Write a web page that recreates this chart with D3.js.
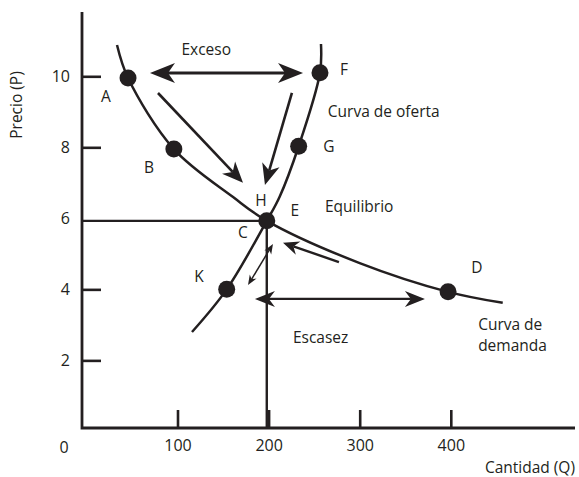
<!DOCTYPE html>
<html>
<head>
<meta charset="utf-8">
<script src="https://cdn.jsdelivr.net/npm/d3@7"></script>
<style>
  body { margin: 0; background: #fff; }
  svg text { font-family: "Open Sans", sans-serif; font-size: 15.5px; fill: #231f20; }
</style>
</head>
<body>
<svg id="chart" width="579" height="477"></svg>
<script>
// values (Q = cantidad, P = precio)
var xTicks = [100, 200, 300, 400];
var yTicks = [2, 4, 6, 8, 10];

var demand = [[33.6, 10.88], [45.7, 9.95], [96, 7.95], [161, 6.6], [198, 5.93], [300, 4.74], [397, 3.93], [457, 3.62]];
var supply = [[115.9, 2.8], [154, 4.0], [198, 5.93], [212, 6.6], [233, 8.03], [256.4, 10.1], [257.5, 10.91]];

var equilibrium = [198, 5.93];

// dots on the curves
var points = [[45.7, 9.95], [96, 7.95], [198, 5.93], [397, 3.93], [256.4, 10.1], [233, 8.03], [154, 4.0]];

// arrows: from, to, head style, double-headed?
var arrows = [
  { from: [69.8, 10.09], to: [237.8, 10.09], head: "big", both: true },
  { from: [78.6, 9.53], to: [171.9, 7.0], head: "mid", both: false },
  { from: [225.6, 9.53], to: [196, 6.94], head: "mid", both: false },
  { from: [277.2, 4.77], to: [215.8, 5.31], head: "small", both: false },
  { from: [177.4, 4.12], to: [204.8, 5.28], head: "thin", both: true },
  { from: [185, 3.73], to: [371.6, 3.73], head: "esc", both: true }
];

var labels = [
  { text: "Exceso", q: 131.5, p: 10.74, anchor: "middle" },
  { text: "A", q: 21.5, p: 9.42, anchor: "middle" },
  { text: "B", q: 68.7, p: 7.44, anchor: "middle" },
  { text: "H", q: 191.7, p: 6.49, anchor: "middle" },
  { text: "E", q: 228.9, p: 6.23, anchor: "middle" },
  { text: "C", q: 171.9, p: 5.59, anchor: "middle" },
  { text: "K", q: 123.6, p: 4.35, anchor: "middle" },
  { text: "F", q: 282.7, p: 10.2, anchor: "middle" },
  { text: "G", q: 266.2, p: 8.01, anchor: "middle" },
  { text: "D", q: 428.7, p: 4.6, anchor: "middle" },
  { text: "Curva de oferta", q: 265, p: 9.0, anchor: "start" },
  { text: "Equilibrio", q: 261.9, p: 6.32, anchor: "start" },
  { text: "Curva de", q: 430, p: 3.0, anchor: "start" },
  { text: "demanda", q: 430, p: 2.41, anchor: "start" },
  { text: "Escasez", q: 226.7, p: 2.63, anchor: "start" }
];

var ink = "#231f20";
var svg = d3.select("#chart");

var x = d3.scaleLinear().domain([0, 400]).range([86.4, 450.8]);
var y = d3.scaleLinear().domain([0, 10]).range([431.4, 76.3]);

var axisX = 82, axisY = 428;

// tick marks point inward
var gy = svg.append("g").attr("transform", "translate(" + axisX + ",0)")
  .call(d3.axisLeft(y).tickValues(yTicks).tickSize(-19).tickPadding(12));
var gx = svg.append("g").attr("transform", "translate(0," + axisY + ")")
  .call(d3.axisBottom(x).tickValues(xTicks).tickSize(-18).tickPadding(12));
[gy, gx].forEach(function (g) {
  g.select(".domain").remove();
  g.selectAll(".tick line").attr("stroke", ink).attr("stroke-width", 2.6);
  g.selectAll(".tick text").attr("fill", ink).style("font-size", "16px").attr("font-family", null);
});
// the price guide line stands in for the 6 tick
gy.selectAll(".tick").filter(function (d) { return d === 6; }).select("line").remove();

svg.append("text").attr("x", 64).attr("y", 453).attr("text-anchor", "middle").style("font-size", "16px").text("0");

// axes lines
svg.append("path").attr("d", "M" + axisX + ",12V" + axisY + "H575")
  .attr("fill", "none").attr("stroke", ink).attr("stroke-width", 2.8);

// equilibrium guides
svg.append("path")
  .attr("d", "M" + axisX + "," + y(equilibrium[1]) + "H" + x(equilibrium[0]) + "V" + axisY)
  .attr("fill", "none").attr("stroke", ink).attr("stroke-width", 2.4);

var line = d3.line().x(function (d) { return x(d[0]); }).y(function (d) { return y(d[1]); })
  .curve(d3.curveCatmullRom.alpha(0.5));

svg.append("path").attr("d", line(demand)).attr("fill", "none").attr("stroke", ink).attr("stroke-width", 2.5);
svg.append("path").attr("d", line(supply)).attr("fill", "none").attr("stroke", ink).attr("stroke-width", 2.5);

// arrows
var heads = {
  big:   { len: 25, hw: 10, notch: 7, sw: 3 },
  mid:   { len: 21, hw: 9, notch: 6, sw: 2.6 },
  esc:   { len: 20, hw: 8, notch: 6, sw: 2.2 },
  small: { len: 16, hw: 7, notch: 5, sw: 2.4 },
  thin:  { len: 10, hw: 4, notch: 3, sw: 1.5 }
};

function headPath(tip, ux, uy, h) {
  var px = -uy, py = ux;
  var bx = tip[0] - ux * h.len, by = tip[1] - uy * h.len;
  var nx = tip[0] - ux * (h.len - h.notch), ny = tip[1] - uy * (h.len - h.notch);
  return "M" + tip[0] + "," + tip[1] +
    "L" + (bx + px * h.hw) + "," + (by + py * h.hw) +
    "L" + nx + "," + ny +
    "L" + (bx - px * h.hw) + "," + (by - py * h.hw) + "Z";
}

var ga = svg.append("g");
arrows.forEach(function (a) {
  var h = heads[a.head];
  var s = [x(a.from[0]), y(a.from[1])], e = [x(a.to[0]), y(a.to[1])];
  var dx = e[0] - s[0], dy = e[1] - s[1], L = Math.sqrt(dx * dx + dy * dy);
  var ux = dx / L, uy = dy / L;
  var cut = h.len - h.notch;
  var s2 = a.both ? [s[0] + ux * cut, s[1] + uy * cut] : s;
  var e2 = [e[0] - ux * cut, e[1] - uy * cut];
  ga.append("line").attr("x1", s2[0]).attr("y1", s2[1]).attr("x2", e2[0]).attr("y2", e2[1])
    .attr("stroke", ink).attr("stroke-width", h.sw);
  ga.append("path").attr("d", headPath(e, ux, uy, h)).attr("fill", ink);
  if (a.both) ga.append("path").attr("d", headPath(s, -ux, -uy, h)).attr("fill", ink);
});

svg.selectAll("circle.pt").data(points).enter().append("circle")
  .attr("class", "pt")
  .attr("cx", function (d) { return x(d[0]); })
  .attr("cy", function (d) { return y(d[1]); })
  .attr("r", 8.5).attr("fill", ink);

svg.selectAll("text.lbl").data(labels).enter().append("text")
  .attr("class", "lbl")
  .attr("x", function (d) { return x(d.q); })
  .attr("y", function (d) { return y(d.p); })
  .attr("dy", "0.35em")
  .attr("text-anchor", function (d) { return d.anchor; })
  .text(function (d) { return d.text; });

svg.append("text").attr("transform", "translate(22,105) rotate(-90)")
  .attr("text-anchor", "middle").text("Precio (P)");
svg.append("text").attr("x", 575).attr("y", 473).attr("text-anchor", "end").text("Cantidad (Q)");
</script>
</body>
</html>
